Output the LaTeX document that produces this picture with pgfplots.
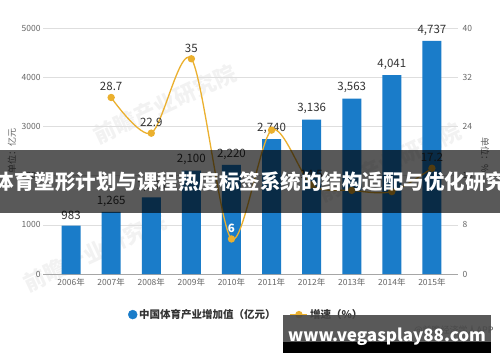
\documentclass[border=0pt]{standalone}
\usepackage{pgfplots}
\pgfplotsset{compat=1.18}
\usepackage{fontspec}
\setmainfont{Noto Sans CJK SC}
\definecolor{barblue}{HTML}{1A7CC9}
\definecolor{lineor}{HTML}{EBB02E}
\definecolor{labgray}{HTML}{333333}
\definecolor{tickgray}{HTML}{666666}
\begin{document}
\begin{tikzpicture}[x=1pt,y=1pt]
\clip (0,0) rectangle (500,362);
\fill[white] (0,0) rectangle (500,362);
% faint watermarks
\node[rotate=25, text=black, opacity=0.05, font=\bfseries\fontsize{22}{22}\selectfont] at (165,258) {前瞻产业研究院};
\node[rotate=25, text=black, opacity=0.05, font=\bfseries\fontsize{22}{22}\selectfont] at (390,200) {前瞻产业研究院};
\node[rotate=25, text=black, opacity=0.05, font=\bfseries\fontsize{22}{22}\selectfont] at (95,110) {前瞻产业研究院};
% unit labels
\node[rotate=90, text=tickgray, font=\fontsize{9}{9}\selectfont] at (12,211) {单位：亿元};
\node[rotate=-90, text=tickgray, font=\fontsize{9}{9}\selectfont] at (485,207) {单位：\%};
\node[text=tickgray, font=\fontsize{9}{9}\selectfont, anchor=east] at (497,32) {@前瞻经济学人APP};
\begin{axis}[
  at={(43pt,88pt)}, anchor=south west,
  scale only axis, width=415pt, height=246pt,
  xmin=-0.7, xmax=9.65, ymin=0, ymax=5000,
  axis line style={draw=none},
  tick style={draw=none},
  ymajorgrids, major grid style={draw=black!13, line width=0.6pt},
  ytick={0,1000,...,5000},
  scaled y ticks=false,
  /pgf/number format/assume math mode=true,
  /pgf/number format/1000 sep={},
  yticklabel style={font=\fontsize{8.5}{9}\selectfont, text=tickgray, xshift=1pt},
  xtick={0,...,9},
  xticklabels={2006年,2007年,2008年,2009年,2010年,2011年,2012年,2013年,2014年,2015年},
  xticklabel style={font=\fontsize{8.5}{9}\selectfont, text=tickgray, yshift=-1pt},
]
\draw[black!35, line width=0.7pt] (axis cs:-0.7,0) -- (axis cs:9.65,0);
\addplot[ybar, bar width=19pt, fill=barblue, draw=none,
  nodes near coords, point meta=explicit symbolic,
  every node near coord/.style={font=\fontsize{11.5}{12}\selectfont, text=labgray, anchor=south, yshift=2pt}]
  table[meta=lab]{
x y lab
0 983 983
1 1265 1,265
2 1555 1,555
3 2100 2,100
4 2220 2,220
5 2740 2,740
6 3136 3,136
7 3563 3,563
8 4041 4,041
9 4737 4,737
};
\end{axis}
\begin{axis}[
  at={(43pt,88pt)}, anchor=south west,
  scale only axis, width=415pt, height=246pt,
  xmin=-0.7, xmax=9.65, ymin=0, ymax=40,
  axis line style={draw=none},
  tick style={draw=none},
  xtick=\empty,
  ytick={0,8,...,40},
  yticklabel pos=right,
  /pgf/number format/assume math mode=true,
  yticklabel style={font=\fontsize{8.5}{9}\selectfont, text=tickgray, xshift=1pt},
  legend style={at={(0.49,-0.165)}, anchor=center, draw=none, fill=none,
    legend columns=2, font=\bfseries\fontsize{10.5}{11}\selectfont, text=labgray,
    /tikz/every even column/.append style={column sep=12pt}},
]
\addlegendimage{only marks, mark=*, mark size=4.5pt, draw=barblue, fill=barblue}
\addlegendentry{中国体育产业增加值（亿元）}
\addplot[smooth, lineor, line width=1.3pt, mark=*, mark size=3pt,
  mark options={fill=lineor, draw=lineor}]
  table{
x y
1 28.7
2 22.9
3 35.0
4 5.7
5 23.4
6 14.5
7 13.6
8 13.4
9 17.2
};
\addlegendentry{增速（\%）}
\addplot[forget plot, draw=none, nodes near coords, point meta=explicit symbolic,
  every node near coord/.style={font=\fontsize{11.5}{12}\selectfont, text=labgray, anchor=south, yshift=3pt}]
  table[meta=lab]{
x y lab
1 28.7 28.7
2 22.9 22.9
3 35.0 35
6 14.5 14.5
9 17.2 17.2
};
\addplot[forget plot, draw=none, nodes near coords, point meta=explicit symbolic,
  every node near coord/.style={font=\bfseries\fontsize{11.5}{12}\selectfont, text=white, anchor=south, yshift=3pt}]
  table[meta=lab]{
x y lab
4 5.7 6
};
\end{axis}
% title band
\fill[black, opacity=0.65] (0,149) rectangle (500,212);
\node[text=white, font=\bfseries\fontsize{20.5}{21}\selectfont] at (250,180) {体育塑形计划与课程热度标签系统的结构适配与优化研究};
% bottom watermark box
\fill[black!72, opacity=0.9] (283,19) rectangle (491,47);
\fill[black] (283,9) rectangle (491,20);
\node[text=white, font=\bfseries\fontsize{17}{17}\selectfont] at (387,25) {www.vegasplay88.com};
\end{tikzpicture}
\end{document}
